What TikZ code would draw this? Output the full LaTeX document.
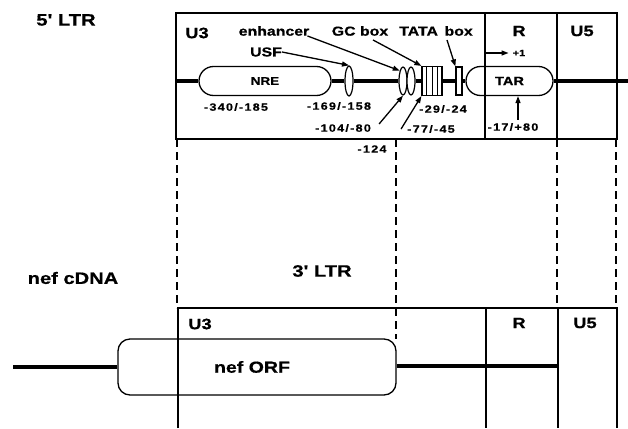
\documentclass[tikz,border=0pt]{standalone}
\usepackage{fontspec}
\usetikzlibrary{arrows.meta,shapes.geometric,shapes.misc,calc}
\newfontfamily\hv{Liberation Sans}[FakeStretch=1.22,FakeBold=0.6]
\newfontfamily\mn{Liberation Sans}[FakeStretch=1.2,FakeBold=0.5,LetterSpace=12]
\tikzset{
 lab/.style={font=\hv\bfseries\fontsize{13}{13}\selectfont, inner sep=0pt},
 seg/.style={font=\hv\bfseries\fontsize{15}{15}\selectfont, inner sep=0pt},
 big/.style={font=\hv\bfseries\fontsize{16.5}{16}\selectfont, inner sep=0pt},
 num/.style={font=\mn\bfseries\fontsize{10.5}{10.5}\selectfont, inner sep=0pt},
 arr/.style={-{Triangle[length=7pt,width=5pt]}, line width=1.3pt},
 frame/.style={line width=1.8pt},
 divl/.style={line width=1.5pt},
 dsh/.style={line width=1.1pt, dash pattern=on 8pt off 5pt},
 bb/.style={line width=3.2pt},
 pill/.style={rounded rectangle, draw, line width=1.3pt, fill=white, inner sep=0pt},
 ell/.style={ellipse, draw, line width=1.2pt, fill=white, inner sep=0pt, minimum width=8pt, minimum height=28pt},
 boxel/.style={rectangle, draw, line width=1.2pt, fill=white, inner sep=0pt},
}
\begin{document}
\begin{tikzpicture}[x=1pt,y=-1pt]
\useasboundingbox (0,0) rectangle (628,428);
% dashed guide lines
\draw[dsh] (177,139) -- (177,308);
\draw[dsh] (396,139) -- (396,339);
\draw[dsh] (557,139) -- (557,308);
\draw[dsh] (616,139) -- (616,308);
% top frame
\draw[frame] (176,13) rectangle (617,139);
\draw[divl] (557,13) -- (557,139);
% backbone anchors
\coordinate (bbL) at (176,81);
\coordinate (bbR) at (628,81);
% elements
\node[pill, minimum width=132pt, minimum height=29pt, font=\hv\bfseries\fontsize{11}{11}\selectfont] (NRE) at (265,81) {NRE};
\node[ell, minimum height=30pt] (USF) at (349,81) {};
\node[ell] (E1) at (403,81) {};
\node[ell] (E2) at (411,81) {};
\node[boxel, minimum width=20pt, minimum height=29pt] (GC) at (432,81) {};
\foreach \f in {0.25,0.5,0.75}
  \draw[line width=1pt] ($(GC.north west)!\f!(GC.north east)$) -- ($(GC.south west)!\f!(GC.south east)$);
\node[boxel, minimum width=6pt, minimum height=28pt] (TATA) at (459,81) {};
\node[pill, minimum width=87pt, minimum height=29pt, font=\hv\bfseries\fontsize{12}{12}\selectfont] (TAR) at (509.5,81) {TAR};
% backbone segments
\draw[bb] (bbL) -- (NRE.west);
\draw[bb] (NRE.east) -- (USF.west);
\draw[bb] (USF.east) -- (E1.west);
\draw[bb] (E2.east) -- (GC.west);
\draw[bb] (GC.east) -- (TATA.west);
\draw[bb] (TATA.east) -- (TAR.west);
\draw[bb] (TAR.east) -- (bbR);
\draw[divl] (485,13) -- (485,139);
% top labels
\node[big] (ltr5) at (66,20) {5' LTR};
\node[seg] (U3t) at (197,33) {U3};
\node[seg] (Rt) at (519,31) {R};
\node[seg] (U5t) at (582,31) {U5};
\node[lab] (enh) at (274,31) {enhancer};
\node[lab] (gcl) at (360,31) {GC box};
\node[lab] (tatal) at (436,31) {TATA\, box};
\node[lab] (usfl) at (266,52) {USF};
\node[font=\hv\bfseries\fontsize{9}{9}\selectfont, inner sep=0pt] (plus1) at (519,53) {+1};
\coordinate (p1s) at (485,53);
\node[num] (n340) at (236,107) {-340/-185};
\node[num] (n169) at (339,106) {-169/-158};
\node[num] (n104) at (343,128) {-104/-80};
\node[num] (n77) at (431,129) {-77/-45};
\node[num] (n29) at (443,109) {-29/-24};
\node[num] (n17) at (513,127) {-17/+80};
\node[num] (n124) at (372,149) {-124};
% arrows
\draw[arr] (usfl.east) -- (USF.north);
\draw[arr] ([xshift=-2pt]enh.south east) -- (E1.north west);
\draw[arr] ([xshift=13pt,yshift=-4pt]gcl.south) -- (GC.north west);
\draw[arr] ([xshift=11pt,yshift=-4pt]tatal.south) -- (TATA.north west);
\draw[arr] (p1s) -- ([xshift=-4pt]plus1.west);
\draw[arr] ([xshift=8pt,yshift=4pt]n104.east) -- (E1.south);
\draw[arr] ([xshift=-6pt]n77.west) -- (GC.south west);
\draw[arr] ([xshift=5pt,yshift=3pt]n17.north) -- ([xshift=5pt]n17.north |- TAR.south);
% bottom part
\node[big] (cdna) at (73,278) {nef cDNA};
\node[big] (ltr3) at (322,271) {3' LTR};
\node[draw, rounded corners=12pt, line width=1.3pt, fill=white, inner sep=0pt, minimum width=278pt, minimum height=56pt, font=\hv\bfseries\fontsize{16}{16}\selectfont] (ORF) at (257,367) {nef ORF\hspace*{10pt}};
\coordinate (oL) at (13,367);
\coordinate (oR) at (558,366);
\draw[bb] (oL) -- (ORF.west);
\draw[bb] (ORF.east |- oR) -- (oR);
\draw[frame] (178,428) -- (178,308) -- (617,308) -- (617,428);
\draw[divl] (486,308) -- (486,428);
\draw[divl] (558,308) -- (558,428);
\node[seg] (U3b) at (200,324) {U3};
\node[seg] (Rb) at (519,323) {R};
\node[seg] (U5b) at (585,323) {U5};
\end{tikzpicture}
\end{document}
